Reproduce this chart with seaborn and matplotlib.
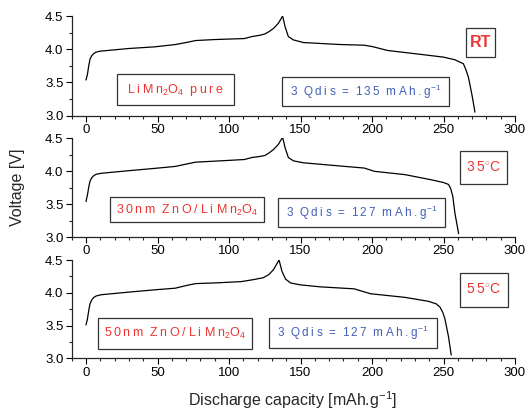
import numpy as np
import pandas as pd
import matplotlib
matplotlib.use("Agg")
import matplotlib.pyplot as plt
from matplotlib.patches import Rectangle
import seaborn as sns

# ---- data ----
cap_rt = [0, 1, 2, 2.8, 4, 5.2, 7, 9.9, 20, 30, 48, 62.5, 70, 76.7, 90, 110.8, 116,
          121.7, 125.2, 128, 131, 134.5, 137.5, 139.2, 141.5, 145, 152, 177.6, 194.6,
          200, 211, 234.7, 250, 258, 263.9, 265.5, 267.4, 270, 272]
volt_rt = [3.535, 3.62, 3.76, 3.85, 3.90, 3.93, 3.955, 3.97, 3.99, 4.01, 4.035, 4.07,
           4.10, 4.13, 4.145, 4.16, 4.19, 4.21, 4.23, 4.265, 4.31, 4.39, 4.50, 4.34,
           4.19, 4.14, 4.10, 4.07, 4.06, 4.04, 3.98, 3.92, 3.88, 3.84, 3.78, 3.70,
           3.58, 3.30, 3.05]

cap_35 = [0, 1, 2, 2.8, 4, 5.2, 7, 10.6, 30, 48, 62.5, 70, 76.7, 90, 110.8, 116, 121,
          125, 128, 131, 134.5, 137.5, 139.2, 141.5, 145, 152, 175.7, 194.6, 201.7,
          223, 241.7, 250, 253.5, 255, 256.5, 258, 260.6]
volt_35 = [3.54, 3.64, 3.77, 3.85, 3.90, 3.93, 3.955, 3.97, 4.01, 4.045, 4.075, 4.11,
           4.14, 4.155, 4.18, 4.21, 4.225, 4.24, 4.28, 4.33, 4.41, 4.52, 4.36, 4.21,
           4.16, 4.13, 4.085, 4.05, 4.00, 3.95, 3.87, 3.83, 3.80, 3.74, 3.62, 3.36, 3.05]

cap_55 = [0, 1, 2, 2.8, 4, 5.2, 7, 10.6, 30, 48, 62.5, 70, 76.7, 90, 108.5, 117, 124,
          128, 131, 135, 137, 139.5, 143, 150, 164, 187.5, 199, 223, 239.4, 245,
          247.6, 249.5, 251, 253.5, 255.4]
volt_55 = [3.51, 3.60, 3.74, 3.83, 3.89, 3.925, 3.95, 3.97, 4.01, 4.045, 4.07, 4.11,
           4.14, 4.15, 4.17, 4.20, 4.23, 4.28, 4.35, 4.50, 4.33, 4.21, 4.15, 4.12,
           4.09, 4.06, 3.985, 3.93, 3.87, 3.83, 3.78, 3.70, 3.60, 3.33, 3.05]

sample_labels = ["Li Mn$_2$O$_4$  pure", "30nm  ZnO/ Li Mn$_2$O$_4$", "50nm  ZnO/ Li Mn$_2$O$_4$"]
qdis_labels = ["3  Qdi s  =  135  mAh. g$^{-1}$", "3  Qdi s  =  127  mAh. g$^{-1}$",
               "3  Qdi s  =  127  mAh. g$^{-1}$"]
temp_labels = ["RT", "35$^{\\circ}$C", "55$^{\\circ}$C"]
xlabel = "Discharge capacity [mAh.g$^{-1}$]"
ylabel = "Voltage [V]"


def spaced(s, sep="\u2009"):
    """insert thin spaces between characters outside math segments"""
    out = []
    inmath = False
    for k, ch in enumerate(s):
        if ch == "$":
            inmath = not inmath
            out.append(ch)
            continue
        out.append(ch)
        if not inmath and k + 1 < len(s) and s[k + 1] != "$" and ch != " " and s[k + 1] != " ":
            out.append(sep)
    return "".join(out)


sns.set_style("ticks")
plt.rcParams["font.family"] = ["Liberation Sans", "DejaVu Sans"]
plt.rcParams["mathtext.fontset"] = "custom"
plt.rcParams["mathtext.rm"] = "Liberation Sans"
plt.rcParams["mathtext.it"] = "Liberation Sans:italic"
plt.rcParams["mathtext.bf"] = "Liberation Sans:bold"

W, H = 528, 415
fig = plt.figure(figsize=(W / 100, H / 100), dpi=100)

ax_px = [(16, 115.5), (138.5, 237), (260, 358.3)]
x0, x1 = 71.7, 515

# box specs in pixels: (cx, cy, w, h)
sample_boxes = [(175.5, 89.5, 117, 31), (187, 210, 154, 25), (175, 333.5, 154, 31)]
qdis_boxes = [(365.5, 91.5, 167, 29), (361.5, 212.5, 167, 29), (353, 333, 168, 30)]
temp_boxes = [(480.5, 42.5, 29, 29), (483.5, 167.5, 47, 33), (483.5, 290, 48, 34)]

red = "#ee3333"
blue = "#4060b8"


def px2fig(cx, cy, w, h):
    return ((cx - w / 2) / W, 1 - (cy + h / 2) / H, w / W, h / H)


datasets = [(cap_rt, volt_rt), (cap_35, volt_35), (cap_55, volt_55)]
for i, ((top, bot), (xs, ys)) in enumerate(zip(ax_px, datasets)):
    ax = fig.add_axes([x0 / W, 1 - bot / H, (x1 - x0) / W, (bot - top) / H])
    df = pd.DataFrame({"cap": xs, "volt": ys})
    sns.lineplot(data=df, x="cap", y="volt", sort=False, ax=ax, color="black", lw=0.9)
    ax.set_xlim(-10, 300)
    ax.set_ylim(3.0, 4.5)
    ax.set_xticks(np.arange(0, 301, 50))
    ax.set_xticks(np.arange(-10, 301, 10), minor=True)
    ax.set_yticks([3.0, 3.5, 4.0, 4.5])
    ax.set_yticks(np.arange(3.0, 4.51, 0.25), minor=True)
    ax.yaxis.set_major_formatter(matplotlib.ticker.FormatStrFormatter("%.1f"))
    ax.tick_params(axis="both", which="major", length=4, width=0.8, labelsize=9.5,
                   colors="black", pad=2)
    ax.tick_params(axis="both", which="minor", length=2.5, width=0.8)
    sns.despine(ax=ax)
    for s in ["left", "bottom"]:
        ax.spines[s].set_linewidth(0.9)
    ax.set_xlabel("")
    ax.set_ylabel("")
    ax.patch.set_alpha(0)

    for (box, txt, col, fs, wt) in [
        (sample_boxes[i], spaced(sample_labels[i]), red, 9, "normal"),
        (qdis_boxes[i], spaced(qdis_labels[i]), blue, 8.5, "normal"),
        (temp_boxes[i], temp_labels[i] if i == 0 else spaced(temp_labels[i]), red,
         11.5 if i == 0 else 10, "bold" if i == 0 else "normal"),
    ]:
        l, b, w, h = px2fig(*box)
        fig.add_artist(Rectangle((l, b), w, h, transform=fig.transFigure,
                                 fill=False, edgecolor="#333333", lw=0.9))
        fig.text(l + w / 2, b + h / 2, txt, color=col, fontsize=fs, fontweight=wt,
                 ha="center", va="center")

fig.text(18 / W, 1 - 187 / H, ylabel, rotation=90, ha="center", va="center", fontsize=11.5)
fig.text(293 / W, 1 - 400 / H, xlabel, ha="center", va="center", fontsize=11.5)

fig.savefig("out.png", dpi=100)
